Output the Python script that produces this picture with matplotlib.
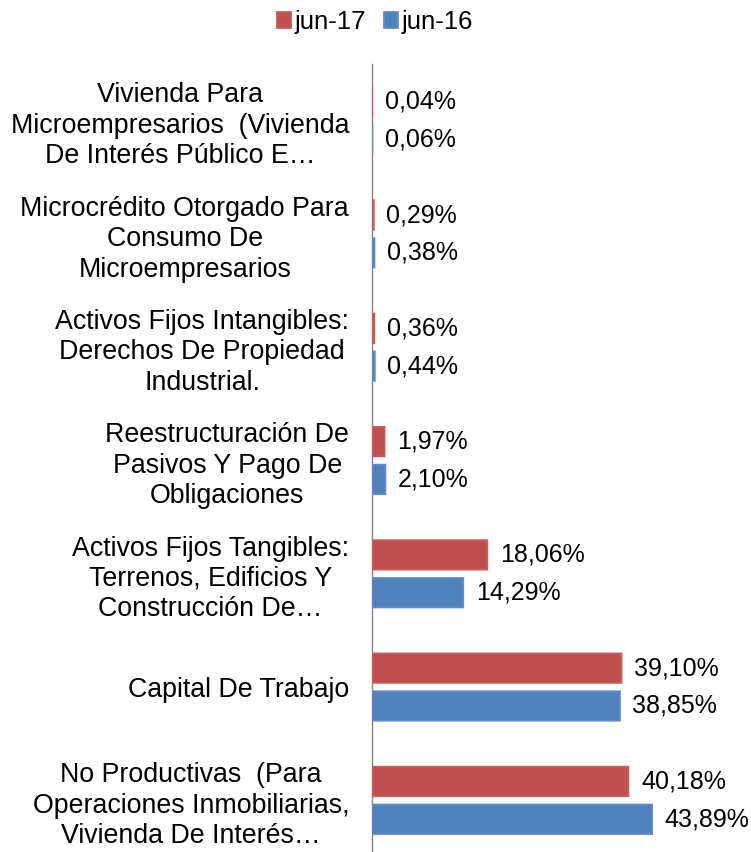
import matplotlib.pyplot as plt
import numpy as np

plt.rcParams['font.family'] = ['Liberation Sans', 'DejaVu Sans']

categories = [
    "Vivienda Para\nMicroempresarios  (Vivienda\nDe Interés Público E…",
    "Microcrédito Otorgado Para\nConsumo De\nMicroempresarios",
    "Activos Fijos Intangibles:\nDerechos De Propiedad\nIndustrial.",
    "Reestructuración De\nPasivos Y Pago De\nObligaciones",
    "Activos Fijos Tangibles:\nTerrenos, Edificios Y\nConstrucción De…",
    "Capital De Trabajo",
    "No Productivas  (Para\nOperaciones Inmobiliarias,\nVivienda De Interés…",
]
jun17 = [0.04, 0.29, 0.36, 1.97, 18.06, 39.10, 40.18]
jun16 = [0.06, 0.38, 0.44, 2.10, 14.29, 38.85, 43.89]
series_names = ["jun-17", "jun-16"]

RED = "#C0504D"
BLUE = "#4F81BD"


def fmt(v):
    return f"{v:.2f}".replace(".", ",") + "%"


def main():
    fig = plt.figure(figsize=(7.51, 8.52), dpi=100)
    ax = fig.add_axes([372 / 751, -5 / 852, 351 / 751, 793 / 852])

    y = np.arange(len(categories))
    h = 0.26
    off = 0.167
    b17 = ax.barh(y - off, jun17, height=h, color=RED, edgecolor="#C65F5C",
                  linewidth=1.3, snap=False, zorder=3, label=series_names[0])
    b16 = ax.barh(y + off, jun16, height=h, color=BLUE, edgecolor="#618CC4",
                  linewidth=1.3, snap=False, zorder=3, label=series_names[1])

    for bars, vals in ((b17, jun17), (b16, jun16)):
        for bar, v in zip(bars, vals):
            ax.annotate(fmt(v), (bar.get_width(), bar.get_y() + bar.get_height() / 2),
                        xytext=(9, 0), textcoords="offset points",
                        ha="left", va="center", fontsize=18, color="#000000")

    ax.set_xlim(0, 55)
    ax.set_ylim(len(categories) - 0.5, -0.5)
    ax.set_yticks(y)
    ax.set_yticklabels(categories, fontsize=19.3, multialignment="center",
                       linespacing=1.22)
    ax.tick_params(axis="y", length=0, pad=16.5)
    ax.set_xticks([])
    for s in ("top", "right", "bottom"):
        ax.spines[s].set_visible(False)
    ax.spines["left"].set_color("#868686")
    ax.spines["left"].set_linewidth(1.0)
    ax.spines["left"].set_zorder(1)

    fig.legend(handles=[b17, b16], loc="center", bbox_to_anchor=(375 / 751, 1 - 22 / 852),
               ncol=2, frameon=False, fontsize=18.5, handlelength=0.55, handleheight=0.55,
               handletextpad=0.15, columnspacing=0.7)

    fig.savefig("out.png", dpi=100)
    plt.close(fig)


if __name__ == "__main__":
    main()
